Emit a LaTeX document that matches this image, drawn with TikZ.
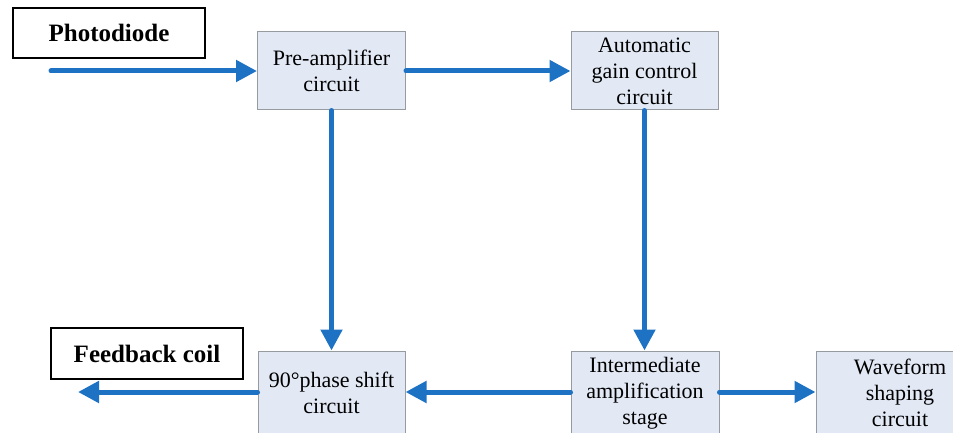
\documentclass[tikz,border=0pt]{standalone}
\usepackage{fontspec}
\setmainfont{Liberation Serif}
\usetikzlibrary{arrows.meta}
\definecolor{boxfill}{RGB}{226,233,245}
\definecolor{boxline}{RGB}{150,155,160}
\definecolor{arrblue}{RGB}{30,114,196}
\tikzset{
  blk/.style={draw=boxline, line width=1pt, fill=boxfill, align=center, inner sep=0pt,
    font=\fontsize{22}{26}\selectfont},
  lbl/.style={draw=black, line width=1.2pt, fill=white, inner sep=0pt,
    font=\fontsize{25}{28}\selectfont\bfseries},
  conn/.style={draw=arrblue, line width=5pt, line cap=round,
    -{Triangle[length=21pt,width=21pt]}},
}
\begin{document}
\begin{tikzpicture}[x=1pt,y=-1pt]
\useasboundingbox (0,0) rectangle (953,433);
\clip (0,0) rectangle (953,433);
\node[lbl, minimum width=192pt, minimum height=50pt] (pd) at (109,33) {Photodiode};
\node[lbl, minimum width=192pt, minimum height=51pt] (fb) at (147,353.5) {Feedback coil};
\node[blk, minimum width=148pt, minimum height=78pt] (pre) at (331.5,71) {Pre-amplifier\\circuit};
\node[blk, minimum width=147pt, minimum height=78pt] (agc) at (644.5,71) {Automatic\\gain control\\circuit};
\node[blk, minimum width=147pt, minimum height=84pt] (ps) at (331.5,393) {90°phase shift\\circuit};
\node[blk, minimum width=148pt, minimum height=84pt] (im) at (645,393) {Intermediate\\amplification\\stage};
\node[blk, minimum width=168pt, minimum height=84pt] (wf) at (900,393) {Waveform\\shaping\\circuit};
\coordinate (in) at (51,71);
\coordinate (out) at (78,392);
\draw[conn] (in) -- (pre.west);
\draw[conn] (pre.east) -- (agc.west);
\draw[conn] (pre.south) -- (ps.north);
\draw[conn] (agc.south) -- (agc.south |- im.north);
\draw[conn] (im.west |- 0,392) -- (ps.east |- 0,392);
\draw[conn] (ps.west |- 0,392) -- (out);
\draw[conn] (im.east |- 0,392) -- (wf.west |- 0,392);
\end{tikzpicture}
\end{document}
